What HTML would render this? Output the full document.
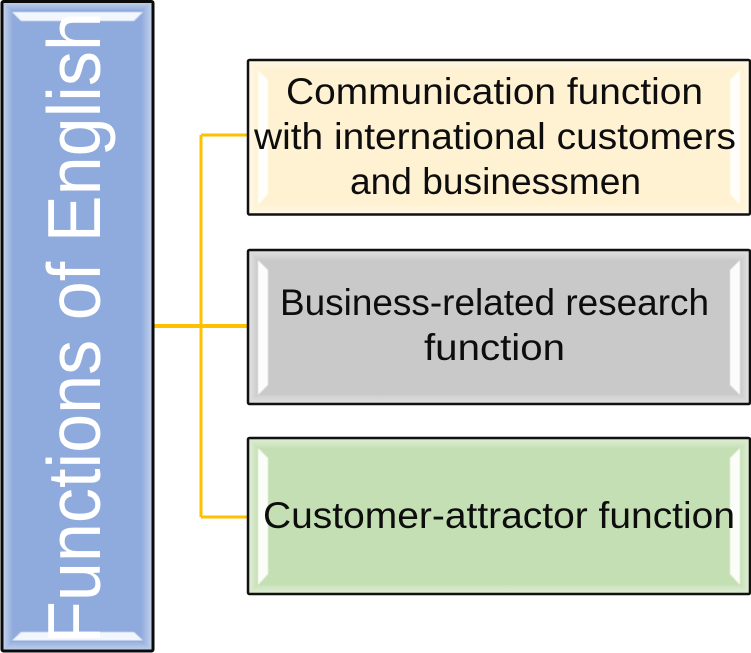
<!DOCTYPE html>
<html><head><meta charset="utf-8"><style>
html,body{margin:0;padding:0;background:#fff;width:751px;height:653px;overflow:hidden}
svg{display:block}
text{font-family:"Liberation Sans",sans-serif}
</style></head><body>
<svg width="751" height="653" viewBox="0 0 751 653" xmlns="http://www.w3.org/2000/svg">
<defs>
<filter id="b" x="-20%" y="-20%" width="140%" height="140%"><feGaussianBlur stdDeviation="0.6"/></filter>
<filter id="t" x="-5%" y="-5%" width="110%" height="110%"><feGaussianBlur stdDeviation="0.35"/></filter>
<linearGradient id="wl" x1="0" x2="1" y1="0" y2="0"><stop offset="0" stop-color="#fff" stop-opacity=".45"/><stop offset="1" stop-color="#fff" stop-opacity="0"/></linearGradient>
<linearGradient id="wr" x1="1" x2="0" y1="0" y2="0"><stop offset="0" stop-color="#fff" stop-opacity=".45"/><stop offset="1" stop-color="#fff" stop-opacity="0"/></linearGradient>
<linearGradient id="wt" x1="0" x2="0" y1="0" y2="1"><stop offset="0" stop-color="#fff" stop-opacity=".42"/><stop offset="1" stop-color="#fff" stop-opacity=".05"/></linearGradient>
<linearGradient id="wb" x1="0" x2="0" y1="1" y2="0"><stop offset="0" stop-color="#fff" stop-opacity=".42"/><stop offset="1" stop-color="#fff" stop-opacity=".1"/></linearGradient>
</defs>
<!-- connectors -->
<g fill="none" stroke="#ffc000" stroke-width="3">
<path d="M201 517H248M201 135H248M201 135V517"/>
<path d="M153 326H248" stroke-width="4"/>
</g>
<!-- left box -->
<rect x="2" y="1.500" width="151" height="649.500" rx="1.500" fill="#8faadc" stroke="#0a0a0a" stroke-width="3"/>
<path d="M3.500 3H151.500L141 10H13Z" fill="url(#wt)"/>
<path d="M3.500 649.500H151.500L141 642H13Z" fill="url(#wb)"/>
<path d="M3.500 3L13 10V642L3.500 649.500Z" fill="url(#wl)"/>
<path d="M151.500 3L141 10V642L151.500 649.500Z" fill="url(#wr)"/>
<g filter="url(#b)">
<path d="M12 12H143L134 21H21Z" fill="#f2f6fd"/>
<path d="M12 640.500H143L134 632H21Z" fill="#f2f6fd"/>
</g>
<text transform="translate(100 644) rotate(-90)" font-size="75" fill="#fff" textLength="632" lengthAdjust="spacingAndGlyphs" filter="url(#t)">Functions of English</text>

<!-- box 1 -->
<rect x="248" y="60" width="502" height="154.500" rx="1.500" fill="#fff2d2" stroke="#111" stroke-width="2.500"/>
<path d="M249.500 61.500H748.500L740 70H258Z" fill="url(#wt)"/>
<path d="M249.500 213H748.500L740 205H258Z" fill="url(#wb)"/>
<path d="M249.500 61.500L258 70V205L249.500 213Z" fill="url(#wl)"/>
<path d="M748.500 61.500L740 70V205L748.500 213Z" fill="url(#wr)"/>
<g filter="url(#b)">
<path d="M258 70L268 80V194L258 205Z" fill="#fffefa"/>
<path d="M740 70L730 80V194L740 205Z" fill="#fffefa"/>
</g>
<g font-size="37" fill="#0c0c0c" filter="url(#t)">
<text x="286" y="104" textLength="417" lengthAdjust="spacingAndGlyphs">Communication function</text>
<text x="254" y="149" textLength="482" lengthAdjust="spacingAndGlyphs">with international customers</text>
<text x="350" y="194" textLength="291" lengthAdjust="spacingAndGlyphs">and businessmen</text>
</g>

<!-- box 2 -->
<rect x="248" y="250" width="502" height="154" rx="1.500" fill="#c9c9c9" stroke="#111" stroke-width="2.500"/>
<path d="M249.500 251.500H748.500L740 260H258Z" fill="url(#wt)"/>
<path d="M249.500 402.500H748.500L740 395H258Z" fill="url(#wb)"/>
<path d="M249.500 251.500L258 260V395L249.500 402.500Z" fill="url(#wl)"/>
<path d="M748.500 251.500L740 260V395L748.500 402.500Z" fill="url(#wr)"/>
<g filter="url(#b)">
<path d="M258 260L268 270V385L258 395Z" fill="#fcfcfc"/>
<path d="M740 260L730 270V385L740 395Z" fill="#fcfcfc"/>
</g>
<g font-size="37" fill="#0c0c0c" filter="url(#t)">
<text x="280" y="315" textLength="429" lengthAdjust="spacingAndGlyphs">Business-related research</text>
<text x="424" y="360" textLength="141" lengthAdjust="spacingAndGlyphs">function</text>
</g>

<!-- box 3 -->
<rect x="248" y="438" width="502" height="156" rx="1.500" fill="#c5dfb4" stroke="#111" stroke-width="2.500"/>
<path d="M249.500 439.500H748.500L740 448H258Z" fill="url(#wt)"/>
<path d="M249.500 592.500H748.500L740 585H258Z" fill="url(#wb)"/>
<path d="M249.500 439.500L258 448V585L249.500 592.500Z" fill="url(#wl)"/>
<path d="M748.500 439.500L740 448V585L748.500 592.500Z" fill="url(#wr)"/>
<g filter="url(#b)">
<path d="M258 448L268 458V574L258 585Z" fill="#fbfdf9"/>
<path d="M740 448L730 458V574L740 585Z" fill="#fbfdf9"/>
</g>
<text x="263" y="528" font-size="37" fill="#0c0c0c" textLength="472" lengthAdjust="spacingAndGlyphs" filter="url(#t)">Customer-attractor function</text>
</svg>
</body></html>
